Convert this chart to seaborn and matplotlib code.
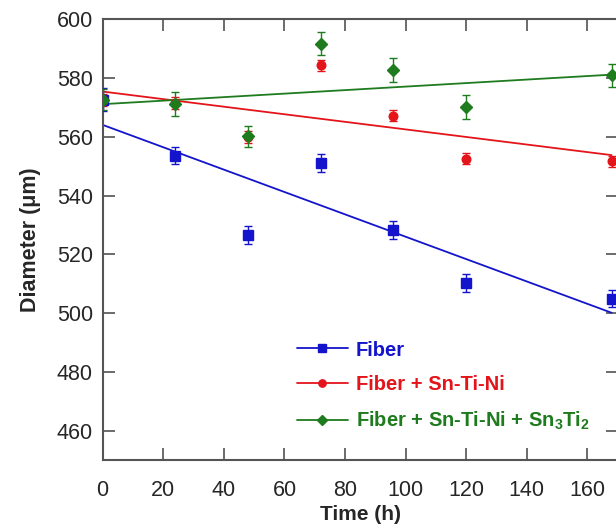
import numpy as np
import pandas as pd
import matplotlib
matplotlib.use("Agg")
import matplotlib.pyplot as plt
from matplotlib.lines import Line2D
import seaborn as sns

# Data
time_h = [0, 24, 48, 72, 96, 120, 168]
fiber = [572.6, 553.6, 526.6, 551.0, 528.3, 510.4, 505.0]
fiber_err = [4.0, 3.0, 3.0, 3.0, 3.0, 3.0, 3.0]
fiber_stn = [572.5, 571.5, 560.0, 584.2, 567.2, 552.5, 551.6]
fiber_stn_err = [2.0, 2.0, 2.0, 1.8, 1.8, 1.8, 1.8]
fiber_stn_st = [572.6, 571.2, 560.1, 591.6, 582.6, 570.0, 580.8]
fiber_stn_st_err = [3.5, 4.0, 3.5, 4.0, 4.0, 4.0, 4.0]

labels = ["Fiber", "Fiber + Sn-Ti-Ni", "Fiber + Sn-Ti-Ni + Sn$_3$Ti$_2$"]
colors = ["#1414CC", "#E4141B", "#1E7B1E"]
markers = ["s", "o", "D"]
msizes = [7, 6.2, 6.3]

df = pd.DataFrame({
    "time": time_h * 3,
    "diameter": fiber + fiber_stn + fiber_stn_st,
    "err": fiber_err + fiber_stn_err + fiber_stn_st_err,
    "series": np.repeat(labels, len(time_h)),
})

sns.set_theme(style="ticks")
plt.rcParams["font.family"] = ["Liberation Sans", "DejaVu Sans"]
plt.rcParams["mathtext.fontset"] = "custom"
plt.rcParams["mathtext.rm"] = "Liberation Sans:bold"
plt.rcParams["mathtext.default"] = "rm"

fig = plt.figure(figsize=(6.16, 5.24), dpi=100)
ax = fig.add_axes([0.1667, 0.1212, 0.836, 0.8426])

handles = []
for lab, col, mk, ms in zip(labels, colors, markers, msizes):
    sub = df[df["series"] == lab]
    # linear fit line
    sns.regplot(data=sub, x="time", y="diameter", ax=ax, scatter=False, ci=None,
                color=col, line_kws={"lw": 1.3})
    ax.errorbar(sub["time"], sub["diameter"], yerr=sub["err"], fmt=mk, ms=ms,
                color=col, ecolor=col, elinewidth=1.0, capsize=3, capthick=1.0,
                zorder=3)
    handles.append(Line2D([], [], color=col, lw=1.3, marker=mk, ms=ms * 0.85))

ax.set_xlim(0, 170)
ax.set_ylim(450, 600)
ax.set_xticks(np.arange(0, 161, 20))
ax.set_yticks(np.arange(460, 601, 20))
ax.tick_params(direction="in", length=8.5, width=1.1, labelsize=15.5,
               top=True, right=True, color="#444444", pad=7)
ax.tick_params(axis="x", pad=14)
for s in ax.spines.values():
    s.set_linewidth(1.5)
    s.set_color("#555555")

ax.set_xlabel("Time (h)", fontsize=15, fontweight="bold", labelpad=3)
ax.set_ylabel("Diameter (μm)", fontsize=15.5, fontweight="bold", labelpad=11)

leg = ax.legend(handles, labels, loc="upper left", bbox_to_anchor=(0.362, 0.29),
                frameon=False, fontsize=14.5, handlelength=2.5, handletextpad=0.4,
                labelspacing=0.78, borderaxespad=0)
for t, c in zip(leg.get_texts(), colors):
    t.set_color(c)
    t.set_fontweight("bold")

fig.savefig("out.png", dpi=100)
